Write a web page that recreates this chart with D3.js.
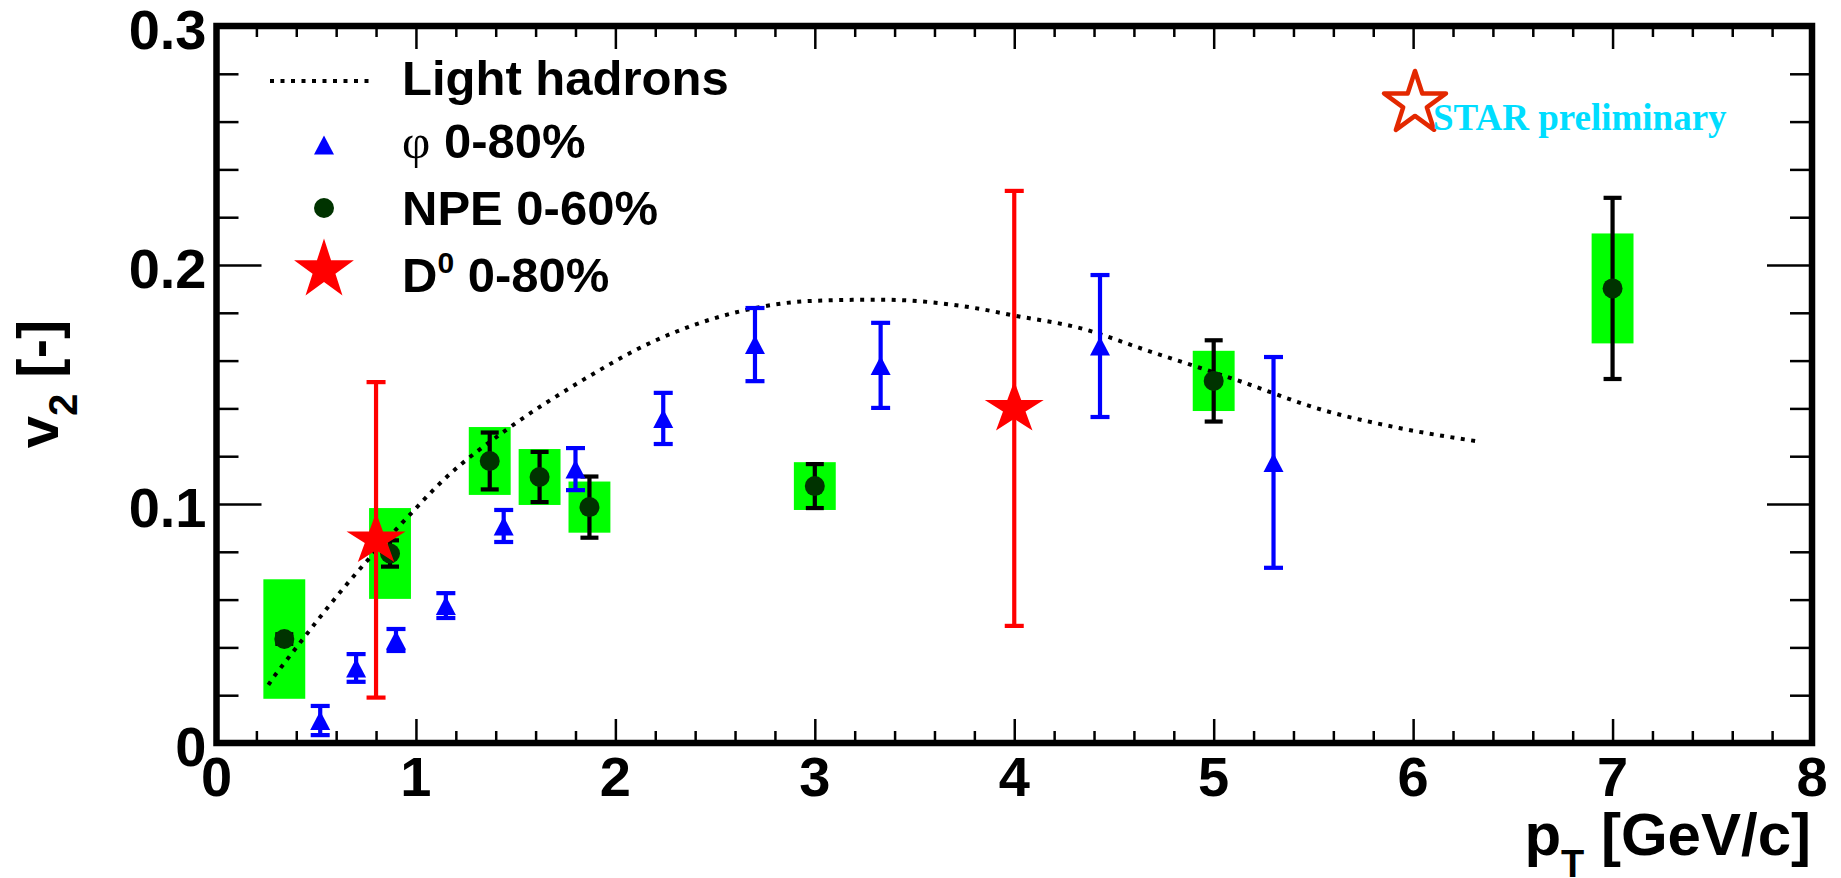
<!DOCTYPE html>
<html><head><meta charset="utf-8">
<script src="https://cdn.jsdelivr.net/npm/d3@7"></script>
<style>body{margin:0;background:#fff}svg{display:block}</style>
</head><body>
<svg id="c" width="1841" height="878"></svg>
<script>
// ---------- data ----------
const xTickValues = [0,1,2,3,4,5,6,7,8];
const xTickLabels = ["0","1","2","3","4","5","6","7","8"];
const yTickValues = [0,0.1,0.2,0.3];
const yTickLabels = ["0","0.1","0.2","0.3"];

const lightPt = [0.26,0.29,0.325,0.70,0.93,1.15,1.47,1.82,2.19,2.62,2.99,3.33,3.83,3.99,4.33,4.66,5.11,5.56,5.93,6.34];
const lightV2 = [0.0243,0.028,0.0318,0.071,0.092,0.111,0.132,0.151,0.168,0.1805,0.185,0.1855,0.1816,0.179,0.1736,0.1644,0.152,0.139,0.1318,0.126];

const phiPt  = [0.52,0.70,0.90,1.15,1.44,1.80,2.24,2.70,3.33,4.43,5.30];
const phiV2  = [0.0094,0.0314,0.0431,0.0575,0.0908,0.1146,0.1358,0.1667,0.158,0.1661,0.1174];
const phiErr = [0.0061,0.0058,0.0046,0.0052,0.0067,0.0088,0.0107,0.0153,0.0178,0.0297,0.0441];

const npePt   = [0.34,0.87,1.37,1.62,1.87,3.0,5.0,7.0];
const npeV2   = [0.0435,0.0793,0.118,0.1113,0.0987,0.1075,0.1515,0.1902];
const npeStat = [0.002,0.0055,0.0119,0.0105,0.0128,0.0092,0.017,0.0379];
const npeSys  = [0.025,0.019,0.0142,0.0117,0.0107,0.01,0.0126,0.023];

const d0Pt  = [0.8,4.0];
const d0V2  = [0.085,0.140];
const d0Err = [0.066,0.091];

const legendLabels = ["Light hadrons","φ","NPE 0-60%","D"];

// ---------- layout ----------
const svg = d3.select("#c");
const L = 216.5, R = 1812, T = 26, B = 743;
const x = d3.scaleLinear().domain([0,8]).range([L,R]);
const y = d3.scaleLinear().domain([0,0.3]).range([B,T]);
const SANS = "'Liberation Sans', Arial, Helvetica, sans-serif";
const SERIF = "'Liberation Serif', 'Times New Roman', serif";
const boxHalf = 0.105;

// minor ticks
const xMinor = d3.range(0,8.0001,0.2).filter(v=>Math.abs(v-Math.round(v))>1e-6);
const yMinor = d3.range(0,0.30001,0.02).filter(v=>Math.abs(v*10-Math.round(v*10))>1e-6);

function styleAxis(g){ g.select(".domain").remove(); g.selectAll("text").remove();
  g.selectAll("line").attr("stroke","#000").attr("stroke-width",2.5); }

svg.append("g").attr("transform",`translate(0,${B})`).call(d3.axisBottom(x).tickValues(xTickValues).tickSize(-24)).call(styleAxis);
svg.append("g").attr("transform",`translate(0,${B})`).call(d3.axisBottom(x).tickValues(xMinor).tickSize(-12)).call(styleAxis);
svg.append("g").attr("transform",`translate(0,${T})`).call(d3.axisTop(x).tickValues(xTickValues).tickSize(-23)).call(styleAxis);
svg.append("g").attr("transform",`translate(0,${T})`).call(d3.axisTop(x).tickValues(xMinor).tickSize(-11)).call(styleAxis);
svg.append("g").attr("transform",`translate(${L},0)`).call(d3.axisLeft(y).tickValues(yTickValues).tickSize(-45)).call(styleAxis);
svg.append("g").attr("transform",`translate(${L},0)`).call(d3.axisLeft(y).tickValues(yMinor).tickSize(-22)).call(styleAxis);
svg.append("g").attr("transform",`translate(${R},0)`).call(d3.axisRight(y).tickValues(yTickValues).tickSize(-45)).call(styleAxis);
svg.append("g").attr("transform",`translate(${R},0)`).call(d3.axisRight(y).tickValues(yMinor).tickSize(-22)).call(styleAxis);

// tick labels
svg.append("g").selectAll("text").data(xTickValues).join("text")
  .attr("x",d=>x(d)).attr("y",B+53).attr("text-anchor","middle")
  .attr("font-family",SANS).attr("font-weight","bold").attr("font-size",56)
  .text((d,i)=>xTickLabels[i]);
svg.append("g").selectAll("text").data(yTickValues).join("text")
  .attr("x",L-10).attr("y",d=>y(d)+22.5).attr("text-anchor","end")
  .attr("font-family",SANS).attr("font-weight","bold").attr("font-size",56)
  .text((d,i)=>yTickLabels[i]);

// axis titles
const xt = svg.append("text").attr("x",1811).attr("y",855).attr("text-anchor","end")
  .attr("font-family",SANS).attr("font-weight","bold").attr("font-size",60);
xt.append("tspan").text("p");
xt.append("tspan").attr("dy",22).attr("font-size",38).text("T");
xt.append("tspan").attr("dy",-22).text(" [GeV/c]");

const yt = svg.append("text").attr("transform","translate(58,384) rotate(-90)").attr("text-anchor","middle")
  .attr("font-family",SANS).attr("font-weight","bold").attr("font-size",58);
yt.append("tspan").text("v");
yt.append("tspan").attr("dy",19).attr("font-size",40).text("2");
yt.append("tspan").attr("dy",-19).text(" [-]");

// ---------- plot content ----------
const plot = svg.append("g");

// NPE systematic boxes
plot.selectAll("rect.sys").data(npePt).join("rect").attr("class","sys")
  .attr("x",(d)=>x(d-boxHalf)).attr("width",(d)=>x(d+boxHalf)-x(d-boxHalf))
  .attr("y",(d,i)=>y(npeV2[i]+npeSys[i])).attr("height",(d,i)=>y(npeV2[i]-npeSys[i])-y(npeV2[i]+npeSys[i]))
  .attr("fill","#00ff00");

// light hadron curve
const lightData = lightPt.map((p,i)=>[p,lightV2[i]]);
plot.append("path").datum(lightData)
  .attr("d",d3.line().x(d=>x(d[0])).y(d=>y(d[1])).curve(d3.curveMonotoneX))
  .attr("fill","none").attr("stroke","#000").attr("stroke-width",4).attr("stroke-dasharray","4,6.5");

function errBars(g, pts, vals, errs, color, cap){
  const gg = g.append("g").attr("stroke",color).attr("stroke-width",4.2).attr("fill","none");
  pts.forEach((p,i)=>{
    const cx = x(p), y1 = y(vals[i]+errs[i]), y2 = y(vals[i]-errs[i]);
    gg.append("line").attr("x1",cx).attr("x2",cx).attr("y1",y1).attr("y2",y2);
    gg.append("line").attr("x1",cx-cap).attr("x2",cx+cap).attr("y1",y1).attr("y2",y1);
    gg.append("line").attr("x1",cx-cap).attr("x2",cx+cap).attr("y1",y2).attr("y2",y2);
  });
}

const triType = {draw(ctx,size){ const w=10, h=9.5; ctx.moveTo(0,-h); ctx.lineTo(w,h); ctx.lineTo(-w,h); ctx.closePath(); }};

// NPE
errBars(plot, npePt, npeV2, npeStat, "#000", 9);
plot.selectAll("path.npe").data(npePt).join("path").attr("class","npe")
  .attr("transform",(d,i)=>`translate(${x(d)},${y(npeV2[i])})`)
  .attr("d",d3.symbol().type(d3.symbolCircle).size(Math.PI*100)).attr("fill","#003300");

// phi
errBars(plot, phiPt, phiV2, phiErr, "#0000ff", 9.5);
plot.selectAll("path.phi").data(phiPt).join("path").attr("class","phi")
  .attr("transform",(d,i)=>`translate(${x(d)},${y(phiV2[i])})`)
  .attr("d",d3.symbol().type(triType)).attr("fill","#0000ff");

// D0
errBars(plot, d0Pt, d0V2, d0Err, "#ff0000", 9.5);
plot.selectAll("path.d0").data(d0Pt).join("path").attr("class","d0")
  .attr("transform",(d,i)=>`translate(${x(d)},${y(d0V2[i])}) scale(1,0.88)`)
  .attr("d",d3.symbol().type(d3.symbolStar).size(1080)).attr("fill","#ff0000");

// frame
svg.append("rect").attr("x",L).attr("y",T).attr("width",R-L).attr("height",B-T)
  .attr("fill","none").attr("stroke","#000").attr("stroke-width",6.5);

// ---------- legend ----------
const lg = svg.append("g");
const rows = [79,143,208,272];
const symX = 324, txtX = 402;
lg.append("line").attr("x1",270).attr("x2",375).attr("y1",rows[0]+2).attr("y2",rows[0]+2)
  .attr("stroke","#000").attr("stroke-width",4).attr("stroke-dasharray","4,6.5");
lg.append("path").attr("transform",`translate(${symX},${rows[1]+2})`).attr("d",d3.symbol().type(triType)).attr("fill","#0000ff");
lg.append("path").attr("transform",`translate(${symX},${rows[2]})`).attr("d",d3.symbol().type(d3.symbolCircle).size(Math.PI*100)).attr("fill","#003300");
lg.append("path").attr("transform",`translate(${symX},${rows[3]-2})`).attr("d",d3.symbol().type(d3.symbolStar).size(1110)).attr("fill","#ff0000");

const lt = (row)=>lg.append("text").attr("x",txtX).attr("y",row).attr("font-family",SANS).attr("font-weight","bold").attr("font-size",49);
lt(95).text(legendLabels[0]);
const t2 = lt(158);
t2.append("tspan").attr("font-family",SERIF).attr("font-weight","normal").text(legendLabels[1]);
t2.append("tspan").text(" 0-80%");
lt(225).text(legendLabels[2]);
const t4 = lt(292);
t4.append("tspan").text(legendLabels[3]);
t4.append("tspan").attr("dy",-19).attr("font-size",30).text("0");
t4.append("tspan").attr("dy",19).text(" 0-80%");

// ---------- STAR preliminary ----------
svg.append("path").attr("transform","translate(1415,103.5)")
  .attr("d",d3.symbol().type(d3.symbolStar).size(1190))
  .attr("fill","#fff").attr("stroke","#e32800").attr("stroke-width",4.5).attr("stroke-linejoin","round");
svg.append("text").attr("x",1433).attr("y",130).attr("font-family",SERIF).attr("font-weight","bold")
  .attr("font-size",37).attr("fill","#00ddff").text("STAR preliminary");
</script>
</body></html>
